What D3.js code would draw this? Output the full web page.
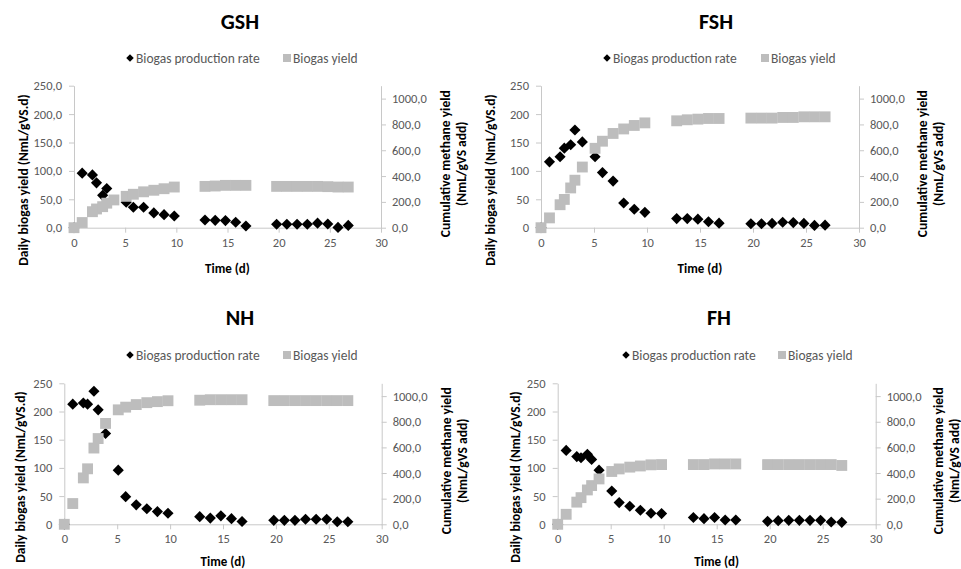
<!DOCTYPE html>
<html>
<head>
<meta charset="utf-8">
<script src="https://cdn.jsdelivr.net/npm/d3@7"></script>
<style>
  body { margin: 0; background: #fff; }
  text { font-family: Carlito, Lato, sans-serif; }
</style>
</head>
<body>
<div id="chart"></div>
<script>
// sampling times (days), shared by all four reactors
const days = [0, 0.8, 1.8, 2.2, 2.8, 3.2, 3.9, 5.1, 5.8, 6.8, 7.8, 8.8, 9.8,
              12.8, 13.8, 14.8, 15.8, 16.8, 19.8, 20.8, 21.8, 22.8, 23.8, 24.8, 25.8, 26.8];

// daily biogas yield (NmL/gVS.d) - left axis
const gshRate = [0, 96, 93, 79, 57, 69, null, 45, 36, 36, 26, 23, 20.5,
                 13.5, 13, 12.5, 9.5, 3, 6, 6, 6, 6, 8, 6.5, 0.5, 4];
const fshRate = [0, 116, 125, 140, 146, 172, 151, 125, 97, 82, 43.5, 32.5, 27,
                 16, 16, 15, 10.5, 8, 7, 7, 7.5, 9.5, 9, 7.5, 4, 4.5];
const nhRate  = [0, 213, 215, 213, 236, 203, 161, 96, 49, 34.5, 27.5, 22.5, 19.5,
                 13.5, 11, 15, 10, 5, 7, 7, 7, 9, 9, 9, 4.5, 4.5];
const fhRate  = [0, 131, 120, 118, 124, 115, 96, 59, 38.5, 32, 25, 19.5, 19,
                 12, 10, 12, 7.7, 7.7, 5.3, 6.5, 7, 7, 7, 7, 4, 3.5];

// cumulative yield (NmL/gVS add) - right axis
const gshYield = [0, 40, 124, 145, 163, 190, 215, 243, 259, 278, 290, 302, 315,
                  320, 323, 328, 328, 328, 320, 320, 320, 320, 320, 318, 315, 315];
const fshYield = [0, 76, 178, 219, 308, 368, 470, 615, 670, 730, 765, 792, 812,
                  828, 836, 841, 846, 846, 849, 849, 849, 854, 854, 859, 859, 859];
const nhYield  = [0, 162, 362, 433, 595, 669, 787, 893, 914, 934, 949, 957, 964,
                  968, 972, 972, 972, 972, 965, 965, 965, 965, 965, 965, 965, 965];
const fhYield  = [0, 78, 173, 208, 268, 302, 354, 412, 432, 446, 455, 464, 466,
                  466, 466, 471, 471, 471, 466, 466, 466, 466, 466, 466, 466, 459];

const xTicks = [0, 5, 10, 15, 20, 25, 30];
const leftTicks = [0, 50, 100, 150, 200, 250];
const rightTicks = [0, 200, 400, 600, 800, 1000];

const seriesNames = ["Biogas production rate", "Biogas yield"];

let w = 961, h = 569;

let svg = d3.select("#chart")
            .append("svg")
            .attr("width", w)
            .attr("height", h);

let commaDecimal = d => d3.format(".1f")(d).replace(".", ",");

let panels = [
  { title: "GSH", rate: gshRate, yld: gshYield, x0: 74, x1: 381, top: 85.7, bot: 227.7,
    titleX: 240, titleY: 29, legY: 58, legText1: 136, legText2: 293,
    leftTitleX: 23, leftTitleY: 180, rightTitleX: 445, timeY: 268, leftFmt: commaDecimal },
  { title: "FSH", rate: fshRate, yld: fshYield, x0: 541, x1: 859, top: 85.7, bot: 227.7,
    titleX: 716, titleY: 29, legY: 58, legText1: 613, legText2: 771,
    leftTitleX: 490, leftTitleY: 180, rightTitleX: 922, timeY: 268, leftFmt: d3.format("d") },
  { title: "NH", rate: nhRate, yld: nhYield, x0: 64.3, x1: 381.7, top: 383.3, bot: 524.3,
    titleX: 240, titleY: 325, legY: 355, legText1: 136, legText2: 293,
    leftTitleX: 20, leftTitleY: 477, rightTitleX: 446, timeY: 561, leftFmt: d3.format("d") },
  { title: "FH", rate: fhRate, yld: fhYield, x0: 557.7, x1: 875.7, top: 383.3, bot: 524.3,
    titleX: 719, titleY: 325, legY: 355, legText1: 632, legText2: 788,
    leftTitleX: 515, leftTitleY: 477, rightTitleX: 938, timeY: 561, leftFmt: d3.format("d") }
];

let axisColor = "#c8c8c8";
let labelColor = "#595959";
let squareColor = "#bdbdbd";

let diamond = d3.symbol().type(d3.symbolSquare).size(62);
let square = d3.symbol().type(d3.symbolSquare).size(118);

panels.forEach(p => {
  let g = svg.append("g");

  let x = d3.scaleLinear().domain([0, 30]).range([p.x0, p.x1]);
  let yL = d3.scaleLinear().domain([0, 250]).range([p.bot, p.top]);
  let yR = d3.scaleLinear().domain([0, 1100]).range([p.bot, p.top]);

  // title
  g.append("text")
    .attr("x", p.titleX)
    .attr("y", p.titleY)
    .attr("text-anchor", "middle")
    .style("font-size", "22px")
    .style("font-weight", "bold")
    .style("fill", "#000")
    .text(p.title);

  // axes
  let styleAxis = sel => {
    sel.selectAll("path, line").attr("stroke", axisColor);
    sel.selectAll("text").style("fill", labelColor).style("font-size", "12.5px")
       .style("font-family", "Carlito, Lato, sans-serif");
  };

  g.append("g")
    .attr("transform", `translate(0, ${p.bot})`)
    .call(d3.axisBottom(x).tickValues(xTicks).tickSize(5).tickSizeOuter(0).tickPadding(5))
    .call(styleAxis);

  g.append("g")
    .attr("transform", `translate(${p.x0}, 0)`)
    .call(d3.axisLeft(yL).tickValues(leftTicks).tickFormat(p.leftFmt).tickSize(5).tickSizeOuter(0).tickPadding(7))
    .call(styleAxis);

  g.append("g")
    .attr("transform", `translate(${p.x1}, 0)`)
    .call(d3.axisRight(yR).tickValues(rightTicks).tickFormat(commaDecimal).tickSize(5).tickSizeOuter(0).tickPadding(6))
    .call(styleAxis);

  // axis titles
  g.append("text")
    .attr("x", (p.x0 + p.x1) / 2)
    .attr("y", p.timeY)
    .attr("text-anchor", "middle")
    .attr("dominant-baseline", "central")
    .style("font-size", "13px")
    .style("font-weight", "bold")
    .text("Time (d)");

  g.append("text")
    .attr("transform", `translate(${p.leftTitleX}, ${p.leftTitleY}) rotate(-90)`)
    .attr("text-anchor", "middle")
    .attr("dominant-baseline", "central")
    .style("font-size", "13.5px")
    .style("font-weight", "bold")
    .text("Daily biogas yield (NmL/gVS.d)");

  let rightMid = (p.top + p.bot) / 2 + 7;
  g.append("text")
    .attr("transform", `translate(${p.rightTitleX}, ${rightMid}) rotate(-90)`)
    .attr("text-anchor", "middle")
    .attr("dominant-baseline", "central")
    .style("font-size", "13.5px")
    .style("font-weight", "bold")
    .text("Cumulative methane yield");

  g.append("text")
    .attr("transform", `translate(${p.rightTitleX + 16}, ${rightMid}) rotate(-90)`)
    .attr("text-anchor", "middle")
    .attr("dominant-baseline", "central")
    .style("font-size", "13.5px")
    .style("font-weight", "bold")
    .text("(NmL/gVS add)");

  // production rate diamonds (drawn first, the yield squares sit on top)
  g.selectAll(".rate")
    .data(days.map((d, i) => [d, p.rate[i]]).filter(d => d[1] != null))
    .enter()
    .append("path")
    .attr("class", "rate")
    .attr("d", diamond)
    .attr("transform", d => `translate(${x(d[0])}, ${yL(d[1])}) rotate(45)`)
    .style("fill", "#000");

  // biogas yield squares (secondary axis)
  g.selectAll(".yield")
    .data(days.map((d, i) => [d, p.yld[i]]))
    .enter()
    .append("path")
    .attr("class", "yield")
    .attr("d", square)
    .attr("transform", d => `translate(${x(d[0])}, ${yR(d[1])})`)
    .style("fill", squareColor);

  // legend
  g.append("path")
    .attr("d", d3.symbol().type(d3.symbolSquare).size(28))
    .attr("transform", `translate(${p.legText1 - 6}, ${p.legY}) rotate(45)`)
    .style("fill", "#000");

  g.append("text")
    .attr("x", p.legText1)
    .attr("y", p.legY)
    .attr("dominant-baseline", "central")
    .style("font-size", "13.5px")
    .style("fill", labelColor)
    .text(seriesNames[0]);

  g.append("rect")
    .attr("x", p.legText2 - 10)
    .attr("y", p.legY - 4)
    .attr("width", 8)
    .attr("height", 8)
    .style("fill", squareColor);

  g.append("text")
    .attr("x", p.legText2)
    .attr("y", p.legY)
    .attr("dominant-baseline", "central")
    .style("font-size", "13.5px")
    .style("fill", labelColor)
    .text(seriesNames[1]);
});
</script>
</body>
</html>
